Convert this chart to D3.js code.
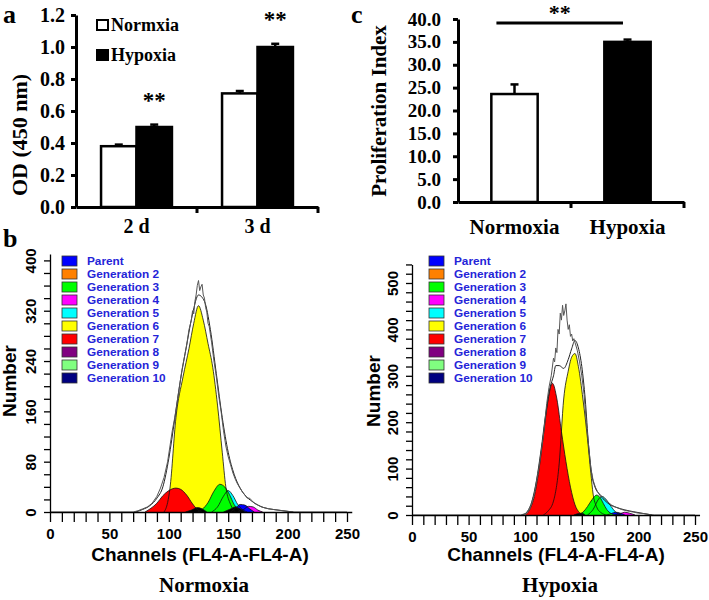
<!DOCTYPE html>
<html><head><meta charset="utf-8">
<script src="https://cdn.jsdelivr.net/npm/d3@7"></script>
<style>body{margin:0;background:#fff}svg{display:block}</style>
</head><body>
<svg id="fig" width="709" height="600"></svg>
<script>
// ---------- Panel a: OD (450 nm) ----------
const odDays = ["2 d", "3 d"];
const odGroups = ["Normxia", "Hypoxia"];
const odNormoxia = [0.38, 0.71];
const odHypoxia = [0.50, 1.00];
const odNormoxiaErr = [0.01, 0.015];
const odHypoxiaErr = [0.015, 0.02];
const odTicks = [0.0, 0.2, 0.4, 0.6, 0.8, 1.0, 1.2];
const odSignif = ["**", "**"];

// ---------- Panel c: Proliferation Index ----------
const piConditions = ["Normoxia", "Hypoxia"];
const piValues = [23.6, 35.0];
const piErrors = [2.1, 0.5];
const piTicks = [0, 5, 10, 15, 20, 25, 30, 35, 40];

// ---------- Panel b: generation legend ----------
const genNames = ["Parent", "Generation 2", "Generation 3", "Generation 4", "Generation 5",
  "Generation 6", "Generation 7", "Generation 8", "Generation 9", "Generation 10"];
const genColors = ["#0000ff", "#ff8000", "#00ff00", "#ff00ff", "#00ffff",
  "#ffff00", "#ff0000", "#800080", "#80ff80", "#000080"];
const histXTicks = d3.range(0, 251, 10);

// Normoxia histogram components [channel, count]
const nGen6 = [[96,0],[99,15],[101,38],[106,150],[112,215],[117,260],[121,300],[125,328],[129,305],[133,268],[137,230],[141,170],[145,95],[148,40],[152,12],[156,0]];
const nGen5 = [[136,0],[141,8],[146,25],[150,34],[154,26],[158,12],[162,4],[166,0]];
const nGen4 = [[158,0],[163,4],[167,9],[171,8],[175,3],[179,0]];
const nParent = [[152,0],[156,6],[160,12],[164,11],[168,5],[172,0]];
const nGen7 = [[80,0],[85,6],[90,14],[95,26],[100,34],[106,38],[110,36],[115,27],[120,13],[124,4],[128,0]];
const nGen3 = [[124,0],[128,4],[133,15],[138,33],[143,44],[147,40],[151,28],[155,12],[159,3],[163,0]];
const nDark1 = [[114,0],[119,3],[124,7],[128,5],[132,0]];
const nDark2 = [[146,0],[151,4],[156,8],[160,5],[164,0]];
const nFit = [[72,0],[78,4],[84,10],[90,22],[95,40],[100,85],[105,148],[110,212],[115,265],[120,315],[125,345],[130,335],[135,290],[140,220],[145,150],[150,95],[155,60],[160,38],[165,25],[170,17],[175,11],[180,7],[188,4],[196,2],[205,0]];
const nData = [[0,0],[70,0],[74,2],[78,5],[82,8],[86,14],[90,25],[93,38],[96,55],[99,80],[101,105],[103,130],[105,150],[107,175],[109,200],[111,225],[113,245],[115,265],[117,290],[119,305],[120,320],[121,315],[122,335],[123,345],[124,360],[125,368],[126,352],[127,358],[128,362],[129,345],[130,340],[131,325],[132,318],[133,300],[134,295],[136,270],[138,240],[140,215],[142,185],[144,160],[146,130],[148,105],[150,88],[152,75],[154,62],[156,52],[158,44],[160,38],[162,32],[164,27],[166,22],[168,22],[170,18],[172,14],[174,12],[176,10],[178,8],[180,7],[184,5],[188,4],[192,3],[196,2],[200,1],[205,0],[250,0]];

// Hypoxia histogram components [channel, count]
const hGen6 = [[116,0],[120,8],[125,30],[130,110],[134,250],[138,310],[141,340],[144,348],[147,320],[151,250],[155,165],[158,90],[160,45],[163,18],[167,5],[172,0]];
const hGen5 = [[155,0],[160,12],[165,35],[168,40],[172,32],[176,18],[180,6],[185,0]];
const hGen4 = [[179,0],[184,3],[188,6],[192,4],[197,0]];
const hParent = [[172,0],[176,3],[180,6],[184,4],[188,0]];
const hGen7 = [[100,0],[104,12],[108,40],[112,95],[116,170],[120,245],[124,284],[128,250],[132,180],[136,115],[140,60],[144,22],[148,5],[152,0]];
const hGen3 = [[147,0],[151,6],[155,18],[159,33],[163,43],[166,38],[169,25],[172,12],[176,3],[180,0]];
const hDark1 = [[143,0],[147,3],[150,4],[153,0]];
const hFit = [[98,0],[102,8],[106,30],[110,75],[114,140],[118,215],[122,275],[125,300],[127,322],[130,322],[134,316],[138,335],[141,358],[144,376],[147,360],[150,320],[153,250],[156,150],[159,85],[162,58],[165,46],[170,32],[175,22],[181,16],[188,11],[196,7],[205,3],[212,0]];
const hData = [[0,0],[96,0],[100,3],[104,12],[108,45],[112,100],[116,170],[119,240],[121,275],[123,300],[125,338],[126,330],[127,360],[128,350],[129,400],[130,390],[131,435],[132,420],[133,452],[134,430],[135,440],[136,455],[137,420],[138,400],[139,410],[140,385],[141,390],[142,375],[143,380],[144,372],[146,355],[148,330],[150,300],[152,260],[154,200],[156,150],[158,100],[160,75],[162,60],[164,50],[166,44],[168,40],[170,34],[173,28],[176,22],[179,18],[182,15],[185,12],[188,10],[192,8],[196,6],[200,4],[205,3],[210,1],[214,0],[250,0]];

// ================= drawing =================
const svg = d3.select("#fig");
const SERIF = "'Liberation Serif','Times New Roman',serif";
const SANS = "'Liberation Sans',Arial,sans-serif";
svg.append("rect").attr("width", 709).attr("height", 600).attr("fill", "#fff");

function styleAxis(g, sw) {
  g.select(".domain").attr("stroke", "#000").attr("stroke-width", sw);
  g.selectAll(".tick line").attr("stroke", "#000").attr("stroke-width", sw);
}

// ---------- Panel a ----------
(function () {
  const g = svg.append("g");
  const y = d3.scaleLinear().domain([0, 1.2]).range([207, 15]);
  const x = d3.scaleBand().domain(odDays).range([76, 318]);
  const bw = x.bandwidth();
  const xs = d3.scaleBand().domain(odGroups).range([bw * 0.207, bw * 0.793]);
  const vals = [odNormoxia, odHypoxia], errs = [odNormoxiaErr, odHypoxiaErr];

  odDays.forEach((d, i) => {
    odGroups.forEach((s, j) => {
      const v = vals[j][i], e = errs[j][i];
      const bx = x(d) + xs(s), w = xs.bandwidth(), cx = bx + w / 2;
      g.append("line").attr("x1", cx).attr("x2", cx).attr("y1", y(v)).attr("y2", y(v + e))
        .attr("stroke", "#000").attr("stroke-width", 2.5);
      g.append("line").attr("x1", cx - 4).attr("x2", cx + 4).attr("y1", y(v + e)).attr("y2", y(v + e))
        .attr("stroke", "#000").attr("stroke-width", 2.5);
      g.append("rect").attr("x", bx).attr("y", y(v)).attr("width", w).attr("height", y(0) - y(v))
        .attr("fill", j === 0 ? "#fff" : "#000").attr("stroke", "#000").attr("stroke-width", 2.5);
    });
    const hx = x(d) + xs(odGroups[1]) + xs.bandwidth() / 2;
    g.append("text").attr("x", hx).attr("y", y(odHypoxia[i] + odHypoxiaErr[i]) - 17)
      .attr("text-anchor", "middle").attr("font-family", SERIF).attr("font-weight", "bold")
      .attr("font-size", 23).text(odSignif[i]);
  });

  const ya = g.append("g").attr("transform", "translate(76,0)")
    .call(d3.axisLeft(y).tickValues(odTicks).tickSize(5).tickSizeOuter(0).tickPadding(6).tickFormat(d3.format(".1f")));
  styleAxis(ya, 3);
  ya.selectAll("text").attr("font-family", SERIF).attr("font-weight", "bold").attr("font-size", 20).attr("fill", "#000");

  const xa = g.append("g").attr("transform", "translate(0,207)")
    .call(d3.axisBottom(x).tickSize(0).tickSizeOuter(0).tickPadding(12));
  styleAxis(xa, 3);
  xa.selectAll("text").attr("font-family", SERIF).attr("font-weight", "bold").attr("font-size", 20).attr("fill", "#000");
  odDays.forEach(d => {
    const tx = x(d) + x.step();
    g.append("line").attr("x1", tx).attr("x2", tx).attr("y1", 207).attr("y2", 213).attr("stroke", "#000").attr("stroke-width", 3);
  });

  // legend
  odGroups.forEach((s, j) => {
    g.append("rect").attr("x", 97).attr("y", 20 + j * 30).attr("width", 11).attr("height", 10)
      .attr("fill", j === 0 ? "#fff" : "#000").attr("stroke", "#000").attr("stroke-width", 2);
    g.append("text").attr("x", 111).attr("y", 31 + j * 30).attr("font-family", SERIF).attr("font-weight", "bold")
      .attr("font-size", 18).text(s);
  });
  g.append("text").attr("transform", "translate(27,135) rotate(-90)").attr("text-anchor", "middle")
    .attr("font-family", SERIF).attr("font-weight", "bold").attr("font-size", 22).text("OD (450 nm)");
  svg.append("text").attr("x", 3).attr("y", 23).attr("font-family", SERIF).attr("font-weight", "bold")
    .attr("font-size", 26).text("a");
})();

// ---------- Panel c ----------
(function () {
  const g = svg.append("g");
  const y = d3.scaleLinear().domain([0, 40]).range([202, 19]);
  const x = d3.scaleBand().domain(piConditions).range([458, 684]);
  const bw = x.bandwidth(), w = bw * 0.41;
  piConditions.forEach((c, i) => {
    const cx = x(c) + bw / 2, v = piValues[i], e = piErrors[i];
    g.append("line").attr("x1", cx).attr("x2", cx).attr("y1", y(v)).attr("y2", y(v + e)).attr("stroke", "#000").attr("stroke-width", 2.5);
    g.append("line").attr("x1", cx - 4).attr("x2", cx + 4).attr("y1", y(v + e)).attr("y2", y(v + e)).attr("stroke", "#000").attr("stroke-width", 2.5);
    g.append("rect").attr("x", cx - w / 2).attr("y", y(v)).attr("width", w).attr("height", y(0) - y(v))
      .attr("fill", i === 0 ? "#fff" : "#000").attr("stroke", "#000").attr("stroke-width", 2.5);
  });
  const ya = g.append("g").attr("transform", "translate(458,0)")
    .call(d3.axisLeft(y).tickValues(piTicks).tickSize(5).tickSizeOuter(0).tickPadding(12).tickFormat(d3.format(".1f")));
  styleAxis(ya, 3);
  ya.selectAll("text").attr("font-family", SERIF).attr("font-weight", "bold").attr("font-size", 19).attr("fill", "#000");
  const xa = g.append("g").attr("transform", "translate(0,202)")
    .call(d3.axisBottom(x).tickSize(0).tickSizeOuter(0).tickPadding(17));
  styleAxis(xa, 3);
  xa.selectAll("text").attr("font-family", SERIF).attr("font-weight", "bold").attr("font-size", 21).attr("fill", "#000");
  piConditions.forEach(c => {
    const tx = x(c) + x.step();
    g.append("line").attr("x1", tx).attr("x2", tx).attr("y1", 202).attr("y2", 208).attr("stroke", "#000").attr("stroke-width", 3);
  });
  // significance bar
  const sx1 = x(piConditions[0]) + bw * 0.34, sx2 = x(piConditions[1]) + bw * 0.46;
  const sy = y(40) + 4;
  g.append("line").attr("x1", sx1).attr("x2", sx2).attr("y1", sy).attr("y2", sy).attr("stroke", "#000").attr("stroke-width", 3);
  g.append("text").attr("x", (sx1 + sx2) / 2).attr("y", 20).attr("text-anchor", "middle")
    .attr("font-family", SERIF).attr("font-weight", "bold").attr("font-size", 22).text("**");
  g.append("text").attr("transform", "translate(386,111) rotate(-90)").attr("text-anchor", "middle")
    .attr("font-family", SERIF).attr("font-weight", "bold").attr("font-size", 21).text("Proliferation Index");
  svg.append("text").attr("x", 351).attr("y", 23).attr("font-family", SERIF).attr("font-weight", "bold")
    .attr("font-size", 26).text("c");
})();

// ---------- Panel b histograms ----------
function histogram(o) {
  const g = svg.append("g");
  const x = d3.scaleLinear().domain([0, 254]).range([o.x0, o.x0 + 254 * o.pxPerCh]);
  const y = d3.scaleLinear().domain([0, o.yMax]).range([o.y0, o.y0 - o.yMax * o.pxPerCount]);
  const area = d3.area().x(d => x(d[0])).y0(y(0)).y1(d => y(d[1])).curve(d3.curveMonotoneX);
  const line = d3.line().x(d => x(d[0])).y(d => y(d[1])).curve(d3.curveMonotoneX);
  o.components.forEach(c => {
    g.append("path").attr("d", area(c.pts)).attr("fill", c.color);
  });
  o.components.forEach(c => {
    g.append("path").attr("d", line(c.pts)).attr("fill", "none").attr("stroke", "#111").attr("stroke-width", 0.8);
  });
  g.append("path").attr("d", line(o.fit)).attr("fill", "none").attr("stroke", "#222").attr("stroke-width", 1);
  g.append("path").attr("d", d3.line().x(d => x(d[0])).y(d => y(d[1]))(o.data))
    .attr("fill", "none").attr("stroke", "#555").attr("stroke-width", 1);

  const yTicks = d3.range(0, o.yMax + 1, 20);
  const ya = g.append("g").attr("transform", `translate(${o.x0},0)`)
    .call(d3.axisLeft(y).tickValues(yTicks).tickSize(6).tickSizeOuter(0)
      .tickFormat(d => d % o.yLabelStep === 0 ? d : ""));
  styleAxis(ya, 1.3);
  ya.selectAll("text").attr("x", null).attr("dy", null).attr("text-anchor", "middle")
    .attr("transform", "translate(-14,0) rotate(-90)")
    .attr("font-family", SANS).attr("font-weight", "bold").attr("font-size", 15).attr("fill", "#000");
  const xa = g.append("g").attr("transform", `translate(0,${o.y0})`)
    .call(d3.axisBottom(x).tickValues(histXTicks).tickSize(10).tickSizeOuter(0).tickPadding(6)
      .tickFormat(d => d % 50 === 0 ? d : ""));
  styleAxis(xa, 1.3);
  xa.selectAll("text").attr("font-family", SANS).attr("font-weight", "bold").attr("font-size", 15).attr("fill", "#000");

  // legend
  genNames.forEach((n, i) => {
    const cy = 261 + i * 13;
    g.append("rect").attr("x", o.legX).attr("y", cy - 5).attr("width", 15).attr("height", 10)
      .attr("fill", genColors[i]).attr("stroke", "#333").attr("stroke-width", 0.8);
    g.append("text").attr("x", o.legX + 25).attr("y", cy + 4).attr("font-family", SANS).attr("font-weight", "bold")
      .attr("font-size", 11.8).attr("fill", "#2424d8").text(n);
  });
  g.append("text").attr("x", o.xTitleX).attr("y", 561).attr("text-anchor", "middle")
    .attr("font-family", SANS).attr("font-weight", "bold").attr("font-size", 19).text("Channels (FL4-A-FL4-A)");
  g.append("text").attr("transform", `translate(${o.yTitleX},${o.yTitleY}) rotate(-90)`).attr("text-anchor", "middle")
    .attr("font-family", SANS).attr("font-weight", "bold").attr("font-size", 19).text("Number");
  g.append("text").attr("x", o.titleX).attr("y", 592).attr("text-anchor", "middle")
    .attr("font-family", SERIF).attr("font-weight", "bold").attr("font-size", 21).text(o.title);
}

histogram({
  x0: 50, y0: 512, pxPerCh: 1.188, pxPerCount: 0.629, yMax: 410, yLabelStep: 80,
  components: [
    { color: genColors[5], pts: nGen6 }, { color: genColors[4], pts: nGen5 },
    { color: genColors[3], pts: nGen4 }, { color: genColors[0], pts: nParent },
    { color: genColors[6], pts: nGen7 }, { color: genColors[2], pts: nGen3 },
    { color: "#000", pts: nDark1 }, { color: "#000", pts: nDark2 }
  ],
  fit: nFit, data: nData, legX: 62, xTitleX: 200, yTitleX: 16, yTitleY: 381, titleX: 204, title: "Normoxia"
});
histogram({
  x0: 412, y0: 515, pxPerCh: 1.132, pxPerCount: 0.464, yMax: 540, yLabelStep: 100,
  components: [
    { color: genColors[5], pts: hGen6 }, { color: genColors[4], pts: hGen5 },
    { color: genColors[3], pts: hGen4 }, { color: genColors[0], pts: hParent },
    { color: genColors[6], pts: hGen7 }, { color: genColors[2], pts: hGen3 },
    { color: "#000", pts: hDark1 }
  ],
  fit: hFit, data: hData, legX: 429, xTitleX: 556, yTitleX: 380, yTitleY: 391, titleX: 560, title: "Hypoxia"
});
svg.append("text").attr("x", 3).attr("y", 247).attr("font-family", SERIF).attr("font-weight", "bold")
  .attr("font-size", 26).text("b");
</script>
</body></html>
